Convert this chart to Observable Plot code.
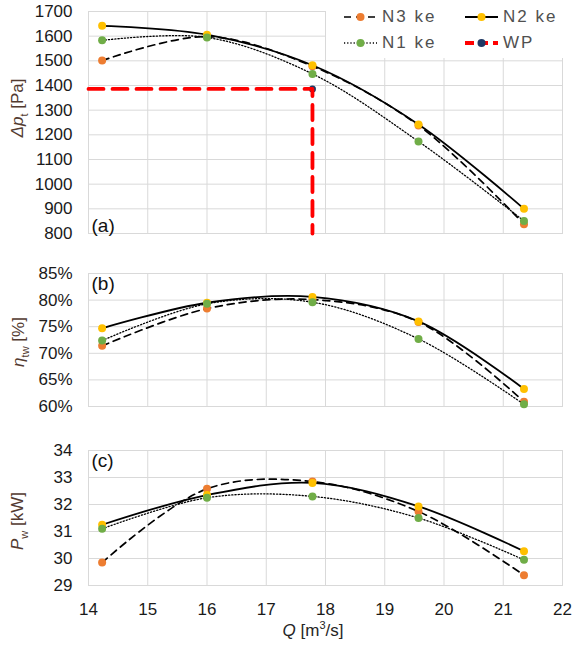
<!DOCTYPE html>
<html>
<head>
<meta charset="utf-8">
<script src="https://cdn.jsdelivr.net/npm/d3@7"></script>
<script src="https://cdn.jsdelivr.net/npm/@observablehq/plot@0.6"></script>
<style>
  html, body { margin: 0; padding: 0; background: #fff; }
  #wrap { position: relative; width: 576px; height: 645px; font-family: "Liberation Sans", Arial, sans-serif; overflow: hidden; }
  .pane { position: absolute; left: 0; }
  .ylab { position: absolute; transform: translate(-50%, -50%) rotate(-90deg); white-space: nowrap; font-size: 17px; color: #523a30; }
  .xlab { position: absolute; transform: translate(-50%, -50%); white-space: nowrap; font-size: 17px; color: #262626; }
  sub, sup { font-size: 11px; }
  #legend { position: absolute; left: 326px; top: 0; width: 250px; height: 58px; background: #fff; }
  .lg-item { position: absolute; font-size: 17px; color: #505050; letter-spacing: 2px; white-space: nowrap; }
</style>
</head>
<body>
<div id="wrap"></div>
<script>
// ---- data ----
const Q = [14.23, 16.0, 17.78, 19.57, 21.35];
const seriesNames = ["N3 ke", "N2 ke", "N1 ke"];
const seriesColors = ["#ED7D31", "#FFC000", "#70AD47"];
const seriesDash = ["7,5", null, "1.2,2"];
const seriesWidth = [1.7, 1.8, 1.3];

const dpN3 = [1501, 1598, 1478, 1238, 838];
const dpN2 = [1642, 1606, 1482, 1242, 900];
const dpN1 = [1583, 1595, 1447, 1173, 851];

const effN3 = [71.4, 78.4, 80.1, 75.9, 60.9];
const effN2 = [74.7, 79.5, 80.6, 76.0, 63.3];
const effN1 = [72.4, 79.3, 79.6, 72.7, 60.4];

const pwN3 = [29.85, 32.58, 32.85, 31.74, 29.38];
const pwN2 = [31.25, 32.35, 32.80, 31.93, 30.27];
const pwN1 = [31.10, 32.25, 32.30, 31.50, 29.95];

const wpQ = [14, 17.78, 17.78];
const wpDp = [1386, 1386, 800];
const wpPointQ = [17.78];
const wpPointDp = [1386];
const wpColor = "#FF0000";
const wpDotColor = "#1F3864";

const xTicks = [14, 15, 16, 17, 18, 19, 20, 21, 22];
const dpTicks = [800, 900, 1000, 1100, 1200, 1300, 1400, 1500, 1600, 1700];
const effTicks = [60, 65, 70, 75, 80, 85];
const pwTicks = [29, 30, 31, 32, 33, 34];

const gridColor = "#d9d9d9";
const textColor = "#1a1a1a";

function rows(ys) { return Q.map((q, i) => ({q, v: ys[i]})); }

function seriesMarks(list) {
  const marks = [];
  list.forEach((ys, k) => {
    const data = rows(ys);
    marks.push(Plot.line(data, {x: "q", y: "v", curve: "catmull-rom", stroke: "#000",
      strokeWidth: seriesWidth[k], strokeDasharray: seriesDash[k]}));
    marks.push(Plot.dot(data, {x: "q", y: "v", r: 4, fill: seriesColors[k], stroke: "none"}));
  });
  return marks;
}

function panel({height, marginTop, marginBottom, yDomain, yTicks, tickFormat, series, tag, tagAnchor, extra = [], showX = false}) {
  const marks = [
    Plot.gridX(xTicks, {stroke: gridColor, strokeOpacity: 1, strokeWidth: 1}),
    Plot.gridY(yTicks, {stroke: gridColor, strokeOpacity: 1, strokeWidth: 1}),
    Plot.frame({stroke: gridColor, strokeWidth: 1}),
    ...seriesMarks(series),
    ...extra,
    Plot.axisY(yTicks, {tickSize: 0, tickPadding: 16, tickFormat, fill: textColor, label: null}),
    Plot.text([tag], {frameAnchor: tagAnchor, dx: 3, dy: tagAnchor.startsWith("top") ? 3 : -2,
      text: d => d, fontSize: 19, fill: "#111", textAnchor: "start",
      lineAnchor: tagAnchor.startsWith("top") ? "top" : "bottom"})
  ];
  if (showX) marks.push(Plot.axisX(xTicks, {tickSize: 0, tickPadding: 17, fill: textColor, label: null}));
  return Plot.plot({
    width: 576, height, marginLeft: 88, marginRight: 14, marginTop, marginBottom,
    style: {fontFamily: "Liberation Sans, Arial, sans-serif", fontSize: "17px", color: textColor, background: "transparent", overflow: "visible"},
    x: {domain: [14, 22], axis: showX ? undefined : null, label: null},
    y: {domain: yDomain, label: null},
    marks
  });
}

const wrap = document.getElementById("wrap");
function place(el, top) { el.classList.add("pane"); el.style.top = top + "px"; wrap.appendChild(el); }

const wpRows = wpQ.map((q, i) => ({q, v: wpDp[i]}));
const wpPt = wpPointQ.map((q, i) => ({q, v: wpPointDp[i]}));

const pa = panel({
  height: 245, marginTop: 11, marginBottom: 12,
  yDomain: [800, 1700], yTicks: dpTicks, tickFormat: d => String(d),
  series: [dpN3, dpN2, dpN1], tag: "(a)", tagAnchor: "bottom-left",
  extra: [
    Plot.dot(wpPt, {x: "q", y: "v", r: 3.5, fill: wpDotColor}),
    Plot.line(wpRows, {x: "q", y: "v", stroke: wpColor, strokeWidth: 3.8, strokeDasharray: "15,9", clip: false})
  ]
});
place(pa, 0);

const pb = panel({
  height: 170, marginTop: 28, marginBottom: 9,
  yDomain: [60, 85], yTicks: effTicks, tickFormat: d => d + "%",
  series: [effN3, effN2, effN1], tag: "(b)", tagAnchor: "top-left"
});
place(pb, 245);

const pc = panel({
  height: 230, marginTop: 35, marginBottom: 60,
  yDomain: [29, 34], yTicks: pwTicks, tickFormat: d => String(d),
  series: [pwN3, pwN2, pwN1], tag: "(c)", tagAnchor: "top-left", showX: true
});
place(pc, 415);

// axis titles
function addLabel(cls, html, x, y) {
  const d = document.createElement("div");
  d.className = cls; d.innerHTML = html;
  d.style.left = x + "px"; d.style.top = y + "px";
  wrap.appendChild(d);
}
addLabel("ylab", "<i>Δp</i><sub>t</sub> [Pa]", 19, 108);
addLabel("ylab", "<i>η</i><sub>tw</sub> [%]", 20, 342);
addLabel("ylab", "<i>P</i><sub>w</sub> [kW]", 19, 521);
addLabel("xlab", "<i>Q</i> [m<sup>3</sup>/s]", 313, 630);

// legend
const legendNames = [...seriesNames, "WP"];
const legendColors = [...seriesColors, wpDotColor];
const legendLine = ["#000", "#000", "#000", wpColor];
const legendDash = [...seriesDash, "9,5"];
const legendWidth = [1.7, 1.8, 1.3, 3.8];
const lg = document.createElement("div");
lg.id = "legend";
wrap.appendChild(lg);
const colX = [17, 138];   // relative to legend box (sample start)
const rowY = [17, 43];
legendNames.forEach((name, i) => {
  const col = i % 2, row = Math.floor(i / 2);
  const svg = d3.create("svg").attr("width", 36).attr("height", 12)
    .style("position", "absolute").style("left", colX[col] + "px").style("top", (rowY[row] - 6) + "px");
  svg.append("line").attr("x1", 1).attr("x2", 34).attr("y1", 6).attr("y2", 6)
    .attr("stroke", legendLine[i]).attr("stroke-width", legendWidth[i])
    .attr("stroke-dasharray", legendDash[i]);
  svg.append("circle").attr("cx", 17.5).attr("cy", 6).attr("r", 4).attr("fill", legendColors[i]);
  lg.appendChild(svg.node());
  const t = document.createElement("div");
  t.className = "lg-item"; t.textContent = name;
  t.style.left = (colX[col] + 39) + "px"; t.style.top = (rowY[row] - 10) + "px";
  lg.appendChild(t);
});
</script>
</body>
</html>
